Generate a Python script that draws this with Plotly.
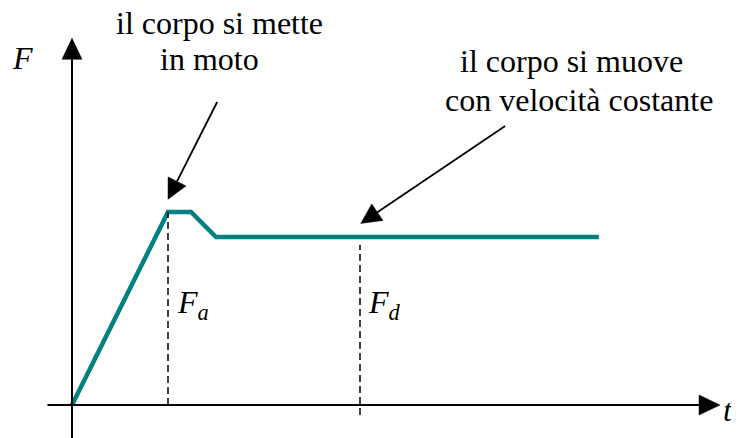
import math
import plotly.graph_objects as go

# ---- data (arbitrary units: time t, force F) ----
t_vals = [0, 2.5, 3.1, 3.75, 13.72]
F_vals = [0, 10, 10, 8.7, 8.7]
t_Fa = 2.5
t_Fd = 7.5
F_Fd_top = 8.3

label_top1 = "il corpo si mette"
label_top2 = "in moto"
label_right1 = "il corpo si muove"
label_right2 = "con velocità costante"

TEAL = "#008080"
FONT = "Liberation Serif, Times New Roman, serif"
FS = 32

# axis ranges (page body has an 8px margin, ranges compensate for it)
X_RANGE = [-1.6667, 17.578]
Y_RANGE = [-2.124, 20.57]
W, H = 739, 438
SX = W / (X_RANGE[1] - X_RANGE[0])   # px per t unit
SY = H / (Y_RANGE[1] - Y_RANGE[0])   # px per F unit

fig = go.Figure()

shapes = []


def arrow(tip, tail, head_len=20, head_w=20, lw=1.8):
    """Line from tail to tip with a filled triangular head (sizes in px)."""
    dx = (tail[0] - tip[0]) * SX
    dy = (tail[1] - tip[1]) * SY
    n = math.hypot(dx, dy)
    ux, uy = dx / n, dy / n
    bx, by = ux * head_len, uy * head_len
    px_, py_ = -uy * head_w / 2, ux * head_w / 2
    base = (tip[0] + bx / SX, tip[1] + by / SY)
    c1 = (tip[0] + (bx + px_) / SX, tip[1] + (by + py_) / SY)
    c2 = (tip[0] + (bx - px_) / SX, tip[1] + (by - py_) / SY)
    shapes.append(dict(type="line", xref="x", yref="y",
                       x0=tail[0], y0=tail[1], x1=base[0], y1=base[1],
                       line=dict(color="black", width=lw)))
    shapes.append(dict(type="path", xref="x", yref="y",
                       path=f"M{tip[0]},{tip[1]} L{c1[0]},{c1[1]} L{c2[0]},{c2[1]} Z",
                       fillcolor="black", line=dict(color="black", width=0.5)))


# axes
arrow(tip=(16.875, 0), tail=(-0.64, 0), head_len=21, head_w=20, lw=2)
arrow(tip=(0, 19.0), tail=(0, -1.75), head_len=21, head_w=20, lw=2)
# pointers
arrow(tip=(2.5, 10.66), tail=(3.78, 15.70), head_len=20, head_w=20, lw=1.8)
arrow(tip=(7.52, 9.41), tail=(11.28, 14.46), head_len=20, head_w=20, lw=1.8)

fig.add_trace(go.Scatter(x=t_vals, y=F_vals, mode="lines",
                         line=dict(color=TEAL, width=4.5), hoverinfo="skip",
                         showlegend=False))

# dashed verticals
fig.add_trace(go.Scatter(x=[t_Fa, t_Fa], y=[0, F_vals[1]], mode="lines",
                         line=dict(color="black", width=1.5, dash="7px,4px"),
                         hoverinfo="skip", showlegend=False))
fig.add_trace(go.Scatter(x=[t_Fd, t_Fd], y=[-0.52, F_Fd_top], mode="lines",
                         line=dict(color="black", width=1.5, dash="7px,4px"),
                         hoverinfo="skip", showlegend=False))

txt = dict(showarrow=False, xref="x", yref="y",
           font=dict(family=FONT, size=FS, color="black"))

fig.add_annotation(x=3.83, y=19.78, text=label_top1, **txt)
fig.add_annotation(x=3.59, y=17.95, text=label_top2, **txt)
fig.add_annotation(x=13.02, y=17.82, text=label_right1, **txt)
fig.add_annotation(x=13.20, y=15.80, text=label_right2, **txt)

fig.add_annotation(x=-1.30, y=17.98, text="<i>F</i>", **txt)
fig.add_annotation(x=17.08, y=-0.26, text="<i>t</i>", **txt)
fig.add_annotation(x=3.15, y=5.2, text="<i>F<sub>a</sub></i>", **txt)
fig.add_annotation(x=8.15, y=5.2, text="<i>F<sub>d</sub></i>", **txt)

fig.update_layout(
    width=W, height=H,
    margin=dict(l=0, r=0, t=0, b=0),
    paper_bgcolor="white", plot_bgcolor="white",
    xaxis=dict(range=X_RANGE, visible=False, fixedrange=True),
    yaxis=dict(range=Y_RANGE, visible=False, fixedrange=True),
    shapes=shapes,
    showlegend=False,
)

fig.write_html("out.html")
